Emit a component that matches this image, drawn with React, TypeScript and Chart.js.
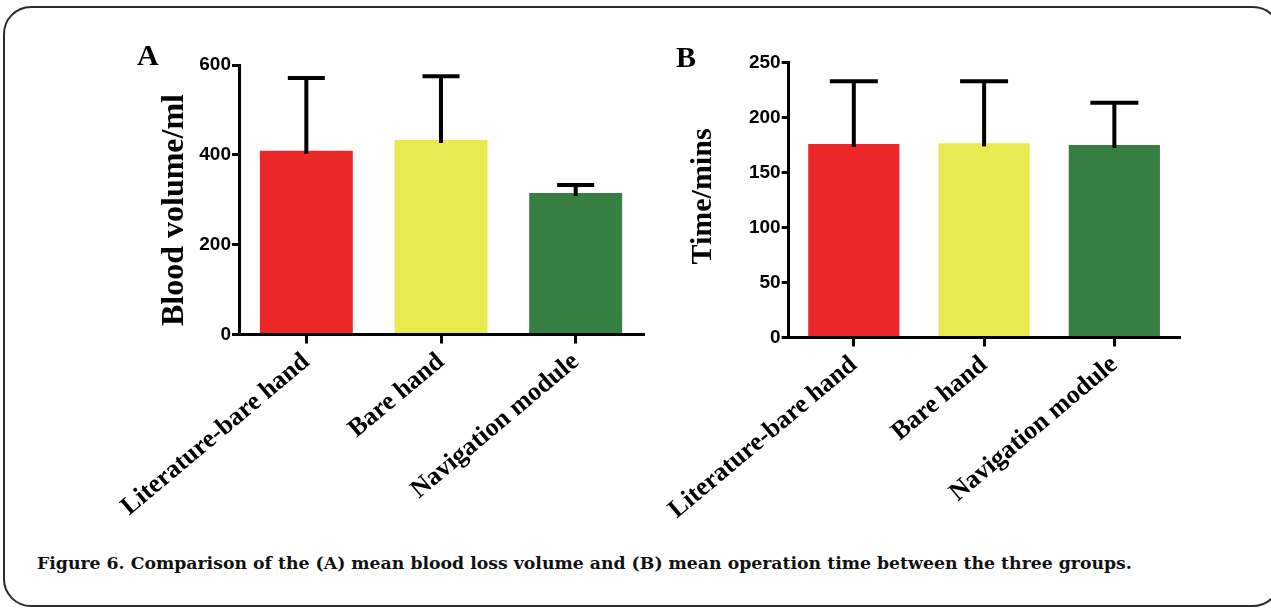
import React, { useEffect, useRef } from 'react';
import { Chart, registerables } from 'chart.js';

Chart.register(...registerables);

const categories = ['Literature-bare hand', 'Bare hand', 'Navigation module'];
const bloodMean = [409, 433, 315];
const bloodSD = [162, 142, 18];
const timeMean = [176, 176.5, 175];
const timeSD = [57, 56.5, 38.5];
const bloodTicks = [0, 200, 400, 600];
const timeTicks = [0, 50, 100, 150, 200, 250];
const barColors = ['#EC2727', '#E9E950', '#367E42'];

const errorBarPlugin = {
  id: 'errorBars',
  afterDatasetsDraw(chart: any, _args: any, opts: any) {
    const { ctx } = chart;
    const meta = chart.getDatasetMeta(0);
    const yScale = chart.scales.y;
    const values = chart.data.datasets[0].data as number[];
    const errs: number[] = opts.errors || [];
    ctx.save();
    ctx.strokeStyle = '#000';
    ctx.lineWidth = 4;
    meta.data.forEach((bar: any, i: number) => {
      const v = values[i];
      const yTop = yScale.getPixelForValue(v + errs[i]);
      const yBase = yScale.getPixelForValue(v);
      ctx.beginPath();
      ctx.moveTo(bar.x, yBase + 3);
      ctx.lineTo(bar.x, yTop);
      ctx.stroke();
      ctx.beginPath();
      ctx.moveTo(bar.x - opts.cap / 2, yTop);
      ctx.lineTo(bar.x + opts.cap / 2, yTop);
      ctx.stroke();
    });
    ctx.restore();
  },
};

const yTitlePlugin = {
  id: 'yTitle',
  afterDraw(chart: any, _args: any, opts: any) {
    const { ctx } = chart;
    ctx.save();
    ctx.translate(opts.x, opts.y);
    ctx.rotate(-Math.PI / 2);
    ctx.font = `bold ${opts.size}px "Liberation Serif", "Times New Roman", serif`;
    ctx.fillStyle = '#000';
    ctx.textAlign = 'center';
    ctx.textBaseline = 'alphabetic';
    ctx.fillText(opts.text, 0, 0);
    ctx.restore();
  },
};

function makeConfig(
  values: number[],
  errors: number[],
  ticks: number[],
  cfg: {
    padTop: number;
    padRight: number;
    yWidth: number;
    xHeight: number;
    barPct: number;
    cap: number;
    title: string;
    titleX: number;
    titleY: number;
    titleSize: number;
  }
): any {
  const tickFont = { family: '"Liberation Sans", Arial, sans-serif', size: 19, weight: 'bold' as const };
  const labelFont = { family: '"Liberation Serif", "Times New Roman", serif', size: 26, weight: 'bold' as const };
  return {
    type: 'bar',
    data: {
      labels: categories,
      datasets: [
        {
          data: values,
          backgroundColor: barColors,
          borderWidth: 0,
          barPercentage: cfg.barPct,
          categoryPercentage: 1,
        },
      ],
    },
    plugins: [errorBarPlugin, yTitlePlugin],
    options: {
      animation: false,
      responsive: false,
      maintainAspectRatio: false,
      layout: { padding: { top: cfg.padTop, right: cfg.padRight, left: 0, bottom: 0 } },
      plugins: {
        legend: { display: false },
        tooltip: { enabled: false },
        errorBars: { errors, cap: cfg.cap },
        yTitle: { text: cfg.title, x: cfg.titleX, y: cfg.titleY, size: cfg.titleSize },
      },
      scales: {
        x: {
          offset: true,
          grid: {
            display: true,
            offset: false,
            drawOnChartArea: false,
            drawTicks: true,
            tickLength: 9,
            tickWidth: 3,
            tickColor: '#000',
            color: '#000',
            lineWidth: 3,
          },
          border: { display: true, color: '#000', width: 3 },
          ticks: {
            color: '#000',
            font: labelFont,
            minRotation: 40,
            maxRotation: 40,
            autoSkip: false,
            padding: 3,
          },
          afterFit: (scale: any) => {
            scale.height = cfg.xHeight;
          },
        },
        y: {
          min: ticks[0],
          max: ticks[ticks.length - 1],
          grid: {
            display: true,
            drawOnChartArea: false,
            drawTicks: true,
            tickLength: 7,
            tickWidth: 3,
            tickColor: '#000',
            color: '#000',
            lineWidth: 3,
          },
          border: { display: true, color: '#000', width: 3 },
          ticks: { color: '#000', font: tickFont, padding: 1 },
          afterBuildTicks: (scale: any) => {
            scale.ticks = ticks.map((v) => ({ value: v }));
          },
          afterFit: (scale: any) => {
            scale.width = cfg.yWidth;
          },
        },
      },
    },
  };
}

function BarPanel(props: { config: any; left: number; width: number; height: number }) {
  const ref = useRef<HTMLCanvasElement | null>(null);
  useEffect(() => {
    if (!ref.current) return;
    const chart = new Chart(ref.current, props.config);
    return () => chart.destroy();
  }, []);
  return (
    <canvas
      ref={ref}
      width={props.width}
      height={props.height}
      style={{ position: 'absolute', left: props.left, top: 0, width: props.width, height: props.height }}
    />
  );
}

export default function App() {
  const configA = makeConfig(bloodMean, bloodSD, bloodTicks, {
    padTop: 65,
    padRight: 17,
    yWidth: 239,
    xHeight: 205.5,
    barPct: 0.69,
    cap: 37,
    title: 'Blood volume/ml',
    titleX: 183,
    titleY: 210,
    titleSize: 32,
  });
  const configB = makeConfig(timeMean, timeSD, timeTicks, {
    padTop: 62.5,
    padRight: 91.5,
    yWidth: 117.25,
    xHeight: 202.5,
    barPct: 0.7,
    cap: 48,
    title: 'Time/mins',
    titleX: 61,
    titleY: 196.5,
    titleSize: 30,
  });
  const panelLabel: React.CSSProperties = {
    position: 'absolute',
    fontFamily: '"Liberation Serif", "Times New Roman", serif',
    fontWeight: 'bold',
    fontSize: 30,
    lineHeight: '30px',
    color: '#000',
  };
  return (
    <div
      style={{
        position: 'fixed',
        left: 0,
        top: 0,
        width: 1271,
        height: 610,
        overflow: 'hidden',
        background: '#fff',
      }}
    >
      <div
        style={{
          position: 'absolute',
          left: 3,
          top: 6,
          width: 1278,
          height: 601,
          border: '2.5px solid #2b2b2b',
          borderRadius: 28,
          boxSizing: 'border-box',
        }}
      />
      <BarPanel config={configA} left={0} width={660} height={540} />
      <BarPanel config={configB} left={650} width={621} height={540} />
      <div style={{ ...panelLabel, left: 137, top: 40 }}>A</div>
      <div style={{ ...panelLabel, left: 676, top: 42 }}>B</div>
      <div
        style={{
          position: 'absolute',
          left: 37,
          top: 553,
          fontFamily: '"DejaVu Serif", serif',
          fontWeight: 'bold',
          fontSize: 17.3,
          lineHeight: '20px',
          color: '#111',
          whiteSpace: 'nowrap',
        }}
      >
        Figure 6. Comparison of the (A) mean blood loss volume and (B) mean operation time between the three groups.
      </div>
    </div>
  );
}
